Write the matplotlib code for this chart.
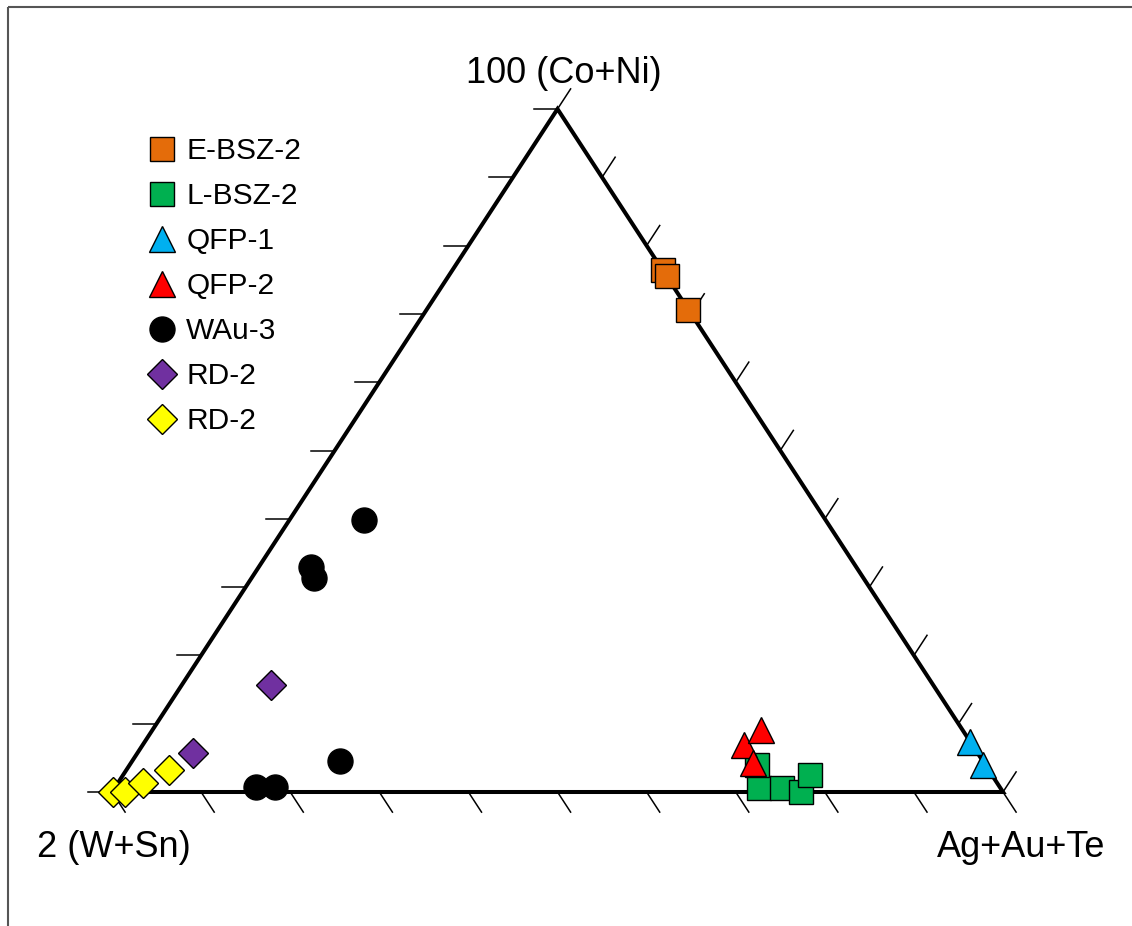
import numpy as np
import matplotlib
matplotlib.use('Agg')
import matplotlib.pyplot as plt
from matplotlib.lines import Line2D

plt.rcParams['font.family'] = ['Liberation Sans', 'DejaVu Sans']

# compositions in percent: (Co+Ni, W+Sn, Ag+Au+Te)
ebsz_co = [76.4, 75.5, 70.6]
ebsz_ws = [0.0, 0.0, 0.0]
ebsz_aat = [23.6, 24.5, 29.4]

lbsz_co = [0.6, 0.6, 0.0, 2.5, 4.0]
lbsz_ws = [27.1, 24.5, 22.7, 20.4, 25.6]
lbsz_aat = [72.3, 74.9, 77.3, 77.1, 70.4]

qfp1_co = [7.3, 4.0]
qfp1_ws = [0.1, 0.2]
qfp1_aat = [92.6, 95.8]

qfp2_co = [6.9, 9.1, 4.2]
qfp2_ws = [25.6, 22.6, 26.0]
qfp2_aat = [67.5, 68.3, 69.8]

wau_co = [39.8, 32.9, 31.3, 4.5, 0.7, 0.7]
wau_ws = [51.8, 61.2, 61.7, 72.2, 83.5, 81.4]
wau_aat = [8.4, 5.9, 7.0, 23.3, 15.8, 17.9]

rdp_co = [15.7, 5.7]
rdp_ws = [74.3, 88.1]
rdp_aat = [10.0, 6.2]

rdy_co = [0.0, 0.0, 1.3, 3.2]
rdy_ws = [99.9, 98.5, 95.9, 92.0]
rdy_aat = [0.1, 1.5, 2.8, 4.8]

ticks = np.arange(0, 101, 10)

# triangle layout (pixel coordinates of the figure)
xL, xR, yB, H = 112.0, 1003.0, 792.0, 683.0
W = xR - xL


def to_xy(co, ws, aat):
    co = np.asarray(co, float)
    ws = np.asarray(ws, float)
    aat = np.asarray(aat, float)
    s = co + ws + aat
    t = co / s
    r = aat / s
    return xL + W * (r + t / 2), yB - H * t


fig = plt.figure(figsize=(11.32, 9.26), dpi=100)
ax = fig.add_axes([0, 0, 1, 1])
ax.set_xlim(0, 1132)
ax.set_ylim(926, 0)
ax.axis('off')

# frame
ax.plot([8, 1132], [7, 7], color='#555555', lw=1.5, solid_capstyle='butt')
ax.plot([8, 8], [7, 926], color='#555555', lw=1.5, solid_capstyle='butt')

# triangle outline
cx, cy = to_xy([0, 100, 0, 0], [100, 0, 0, 100], [0, 0, 100, 0])
ax.plot(cx, cy, color='black', lw=2.9, solid_joinstyle='miter', zorder=2)

# ticks
tl = 24.0
dl = np.array([W / 2, -H]); dl /= np.hypot(*dl)
dr = np.array([W / 2, H]); dr /= np.hypot(*dr)
for v in ticks:
    # left edge, horizontal
    x0, y0 = to_xy([v], [100 - v], [0])
    ax.plot([x0[0], x0[0] - tl], [y0[0], y0[0]], color='black', lw=1.1, zorder=1)
    # right edge, tick parallel to left edge
    x0, y0 = to_xy([v], [0], [100 - v])
    ax.plot([x0[0], x0[0] + tl * dl[0]], [y0[0], y0[0] + tl * dl[1]], color='black', lw=1.1, zorder=1)
    # base, tick parallel to right edge
    x0, y0 = to_xy([0], [100 - v], [v])
    ax.plot([x0[0], x0[0] + tl * dr[0]], [y0[0], y0[0] + tl * dr[1]], color='black', lw=1.1, zorder=1)

series = [
    ('E-BSZ-2', ebsz_co, ebsz_ws, ebsz_aat, 's', '#E46C0A', 17),
    ('L-BSZ-2', lbsz_co, lbsz_ws, lbsz_aat, 's', '#00B050', 17),
    ('QFP-1', qfp1_co, qfp1_ws, qfp1_aat, '^', '#00B0F0', 19),
    ('QFP-2', qfp2_co, qfp2_ws, qfp2_aat, '^', '#FF0000', 19),
    ('WAu-3', wau_co, wau_ws, wau_aat, 'o', 'black', 18),
    ('RD-2', rdp_co, rdp_ws, rdp_aat, 'D', '#7030A0', 15),
    ('RD-2', rdy_co, rdy_ws, rdy_aat, 'D', '#FFFF00', 15),
]

handles = []
for name, co, ws, aat, mk, col, ms in series:
    x, y = to_xy(co, ws, aat)
    for xi, yi in zip(x, y):
        ax.plot(xi, yi, marker=mk, ms=ms, mfc=col, mec='black', mew=1.0, ls='none', zorder=3)
    handles.append(Line2D([], [], marker=mk, ms=ms, mfc=col, mec='black', mew=1.0, ls='none', label=name))

ax.legend(handles=handles, loc='upper left', bbox_to_anchor=(147.4 / 1132, 1 - 137 / 926),
          bbox_transform=fig.transFigure, frameon=False, fontsize=21.5, handlelength=1.0,
          handletextpad=0.3, labelspacing=0.57, borderpad=0, borderaxespad=0)

ax.text(564, 83, '100 (Co+Ni)', fontsize=26, ha='center', va='baseline')
ax.text(37, 857, '2 (W+Sn)', fontsize=26, ha='left', va='baseline')
ax.text(937, 857, 'Ag+Au+Te', fontsize=26, ha='left', va='baseline')

fig.savefig('out.png', dpi=100)
